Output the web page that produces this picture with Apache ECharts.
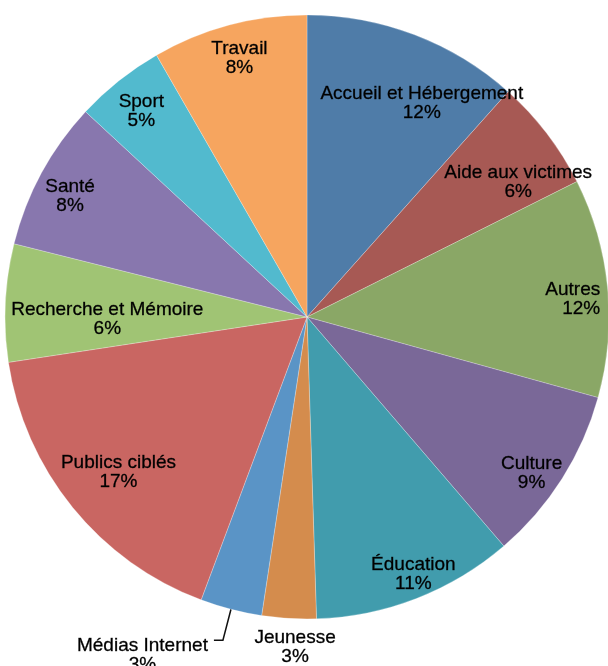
<!DOCTYPE html>
<html><head><meta charset="utf-8">
<script src="https://cdn.jsdelivr.net/npm/echarts@6/dist/echarts.min.js"></script>
<style>html,body{margin:0;padding:0;background:#fff}#c{width:608px;height:666px}</style>
</head><body><div id="c"></div>
<script>
const categories = ['Accueil et Hébergement','Aide aux victimes','Autres','Culture','Éducation','Jeunesse','Médias Internet','Publics ciblés','Recherche et Mémoire','Santé','Sport','Travail'];
const shares = [11.6, 6.0, 11.7, 9.4, 10.8, 2.9, 3.3, 16.9, 6.3, 8.0, 4.8, 8.3];
const colors = ['#4f7ca8','#a75954','#8aa766','#7a6898','#419cad','#d48c4d','#5a94c6','#c96662','#a0c474','#8877ae','#52bace','#f6a55f'];

// label placement tweaks (style only)
const nudges = {
  'Accueil et Hébergement': [20, 35],
  'Aide aux victimes': [0, 27],
  'Autres': [1, 8],
  'Culture': [0, 14],
  'Éducation': [10, 9],
  'Publics ciblés': [18, -12],
  'Recherche et Mémoire': [66, 15],
  'Santé': [-3, 6],
  'Sport': [0, 2],
  'Travail': [1, -2],
  'Jeunesse': [8, -3]
};
const FONT = '"Liberation Sans", Arial, sans-serif';
const CENTER = [307, 317];
const R = 302;
const txt = { color: '#000', fontSize: 19, lineHeight: 19, fontFamily: FONT, textBorderColor: 'rgba(0,0,0,0.8)', textBorderWidth: 0.35 };

const mainData = categories.map((name, i) => {
  const d = { name, value: shares[i], itemStyle: { color: colors[i] } };
  if (name === 'Médias Internet') {
    d.label = {
      show: true, position: 'outside', padding: [30, 0, 0, 0], distanceToLabelLine: 6,
      formatter: '{n|{b}}\n{n|{d}%}',
      rich: { n: Object.assign({ align: 'center' }, txt) }
    };
    d.labelLine = { show: true, length: 32, length2: 9, lineStyle: { color: '#111', width: 1.5 } };
  }
  return d;
});
const innerLabelData = categories.map((name, i) => {
  const d = { name, value: shares[i], label: { show: name !== 'Jeunesse' && name !== 'Médias Internet' } };
  if (name === 'Autres') {
    d.label.formatter = '{r|{b}}\n{r|{d}%}';
    d.label.rich = { r: Object.assign({ align: 'right' }, txt) };
  }
  return d;
});
const outerLabelData = categories.map((name, i) => ({
  name, value: shares[i],
  label: { show: name === 'Jeunesse' }
}));

const base = {
  type: 'pie', center: CENTER, startAngle: 90, clockwise: true,
  avoidLabelOverlap: false, percentPrecision: 0, animation: false
};
const nudge = function (p) {
  const n = nudges[categories[p.dataIndex]];
  return n ? { dx: n[0], dy: n[1] } : {};
};

const chart = echarts.init(document.getElementById('c'), null, { renderer: 'canvas' });
chart.setOption({
  backgroundColor: '#fff',
  series: [
    Object.assign({}, base, {
      name: 'main', radius: [0, R], data: mainData,
      itemStyle: { borderColor: 'rgba(255,255,255,0.5)', borderWidth: 0.5 },
      label: { show: false }, labelLine: { show: false },
      emphasis: { disabled: true }
    }),
    Object.assign({}, base, {
      name: 'labels', radius: [224, R], data: innerLabelData, silent: true, z: 5,
      itemStyle: { color: 'rgba(0,0,0,0)' },
      label: Object.assign({ position: 'inside', formatter: '{b}\n{d}%' }, txt),
      labelLine: { show: false },
      labelLayout: nudge,
      emphasis: { disabled: true }
    }),
    Object.assign({}, base, {
      name: 'outer', radius: [R, R + 58], data: outerLabelData, silent: true, z: 5,
      itemStyle: { color: 'rgba(0,0,0,0)' },
      label: Object.assign({ position: 'inside', formatter: '{b}\n{d}%' }, txt),
      labelLine: { show: false },
      labelLayout: nudge,
      emphasis: { disabled: true }
    })
  ]
});
</script></body></html>
